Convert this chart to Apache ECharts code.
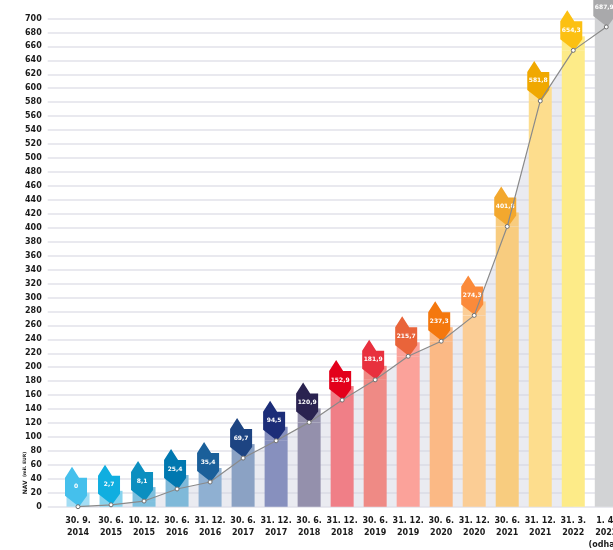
<!DOCTYPE html>
<html>
<head>
<meta charset="utf-8">
<script src="https://cdn.jsdelivr.net/npm/echarts@6/dist/echarts.min.js"></script>
<style>
  html, body { margin: 0; padding: 0; background: #fff; }
  #chart { width: 613px; height: 550px; }
</style>
</head>
<body>
<div id="chart"></div>
<script>
  // kategórie (dátumy)
  var categories = ['30. 9.\n2014', '30. 6.\n2015', '10. 12.\n2015', '30. 6.\n2016', '31. 12.\n2016',
    '30. 6.\n2017', '31. 12.\n2017', '30. 6.\n2018', '31. 12.\n2018', '30. 6.\n2019', '31. 12.\n2019',
    '30. 6.\n2020', '31. 12.\n2020', '30. 6.\n2021', '31. 12.\n2021', '31. 3.\n2022', '1. 4.\n2022\n(odhad)'];
  // NAV (mil. EUR)
  var navValues = [0, 2.7, 8.1, 25.4, 35.4, 69.7, 94.5, 120.9, 152.9, 181.9, 215.7, 237.3, 274.3, 401.8, 581.8, 654.3, 687.9];
  var barColors = ['#a3ddf4', '#86d3ee', '#7fc0de', '#7fb9d9', '#8fb0d2', '#8ba2c4', '#8790be', '#9490ac',
    '#f07f87', '#ef8a85', '#fba29a', '#fbb985', '#fbcd95', '#f8cc7f', '#fddd8d', '#fdeb88', '#d2d3d5'];
  var tagColors = ['#45c0ec', '#10aee0', '#0c8fc0', '#0078b0', '#1a5f9a', '#1d4482', '#1c2d78', '#2a2250',
    '#e3001b', '#e8303e', '#e9643a', '#f4780e', '#fb8a3a', '#f3a82e', '#f0a800', '#fcc012', '#a9a9ab'];

  var font = 'DejaVu Sans';
  var tagPath = 'path://M7,0 L14,11 L22,11 L22,29 L14,40 L0,29 L0,11 Z';

  var chart = echarts.init(document.getElementById('chart'));

  var option = {
    animation: false,
    backgroundColor: '#fff',
    grid: [
      {left: 61.5, width: 561.3, top: 18.5, bottom: 43.3, outerBoundsMode: 'none'},
      {left: 47.7, right: 0, top: 18.5, bottom: 43.3, outerBoundsMode: 'none'}
    ],
    xAxis: [{
      type: 'category',
      gridIndex: 0,
      data: categories,
      axisLine: {show: false},
      axisTick: {show: false},
      axisLabel: {
        interval: 0,
        margin: 8,
        color: '#1a1a1a',
        fontFamily: font,
        fontWeight: 'bold',
        fontSize: 8,
        lineHeight: 12
      }
    }, {
      type: 'value',
      gridIndex: 1,
      show: false
    }],
    yAxis: [{
      type: 'value',
      gridIndex: 0,
      min: 0,
      max: 700,
      interval: 20,
      show: false
    }, {
      type: 'value',
      gridIndex: 1,
      min: 0,
      max: 700,
      interval: 20,
      axisLine: {show: false},
      axisTick: {show: false},
      axisLabel: {
        margin: 6,
        color: '#1a1a1a',
        fontFamily: font,
        fontWeight: 'bold',
        fontSize: 8
      },
      splitLine: {lineStyle: {color: '#e2e2ea', width: 1.5}}
    }],
    graphic: [{
      type: 'text',
      x: 25,
      y: 473,
      rotation: Math.PI / 2,
      style: {
        text: '{a|NAV} {b|(mil. EUR)}',
        align: 'center',
        verticalAlign: 'middle',
        rich: {
          a: {fontFamily: font, fontWeight: 'bold', fontSize: 6, fill: '#1a1a1a'},
          b: {fontFamily: font, fontWeight: 'bold', fontSize: 4.5, fill: '#1a1a1a'}
        }
      }
    }],
    series: [
      {
        // plocha pod krivkou
        type: 'line',
        z: 1,
        data: navValues.slice(0, 16),
        symbol: 'none',
        lineStyle: {width: 0},
        areaStyle: {color: 'rgba(208,210,224,0.45)', opacity: 1},
        silent: true
      },
      {
        type: 'bar',
        z: 2,
        barWidth: 23,
        data: navValues.map(function (v, i) {
          return {value: v, itemStyle: {color: barColors[i]}};
        })
      },
      {
        // horný okraj stĺpca pod štítkom
        type: 'scatter',
        z: 3,
        symbol: 'rect',
        itemStyle: {opacity: 1},
        data: navValues.map(function (v, i) {
          var last = i === navValues.length - 1;
          return {
            value: v,
            symbolSize: last ? [23, 60] : [23, 14],
            symbolOffset: last ? [0, -30] : [0, -7],
            itemStyle: {color: barColors[i], opacity: 1}
          };
        })
      },
      {
        // štítky s hodnotami
        type: 'scatter',
        z: 4,
        symbol: tagPath,
        symbolSize: [22, 40],
        symbolOffset: [-2, -20],
        itemStyle: {opacity: 1},
        data: navValues.map(function (v, i) {
          return {value: v, itemStyle: {color: tagColors[i], opacity: 1}};
        }),
        label: {
          show: true,
          position: 'inside',
          color: '#fff',
          fontFamily: font,
          fontWeight: 'bold',
          fontSize: 6,
          formatter: function (p) {
            return String(p.value).replace('.', ',');
          }
        }
      },
      {
        type: 'line',
        z: 5,
        data: navValues,
        symbol: 'circle',
        symbolSize: 4,
        itemStyle: {color: '#fff', borderColor: '#6f6f6f', borderWidth: 1},
        lineStyle: {color: '#8a8a8a', width: 1.2}
      }
    ]
  };

  chart.setOption(option);
</script>
</body>
</html>
